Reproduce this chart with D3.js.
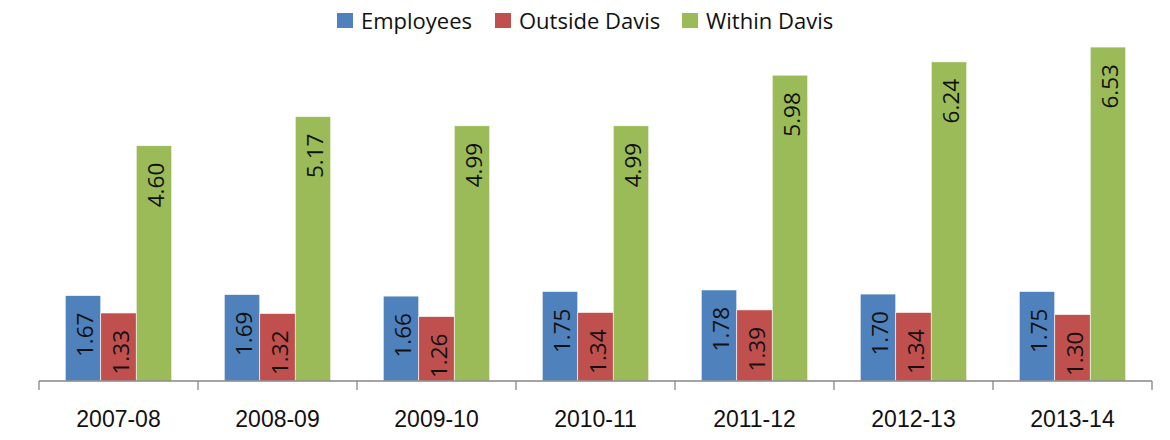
<!DOCTYPE html>
<html>
<head>
<meta charset="utf-8">
<script src="https://cdn.jsdelivr.net/npm/d3@7"></script>
<style>
  body { margin: 0; background: #fff; }
  svg { font-family: "Open Sans", sans-serif; }
</style>
</head>
<body>
<svg width="1170" height="440"></svg>
<script>
const width = 1170, height = 440;
const svg = d3.select("svg");

const years = ["2007-08", "2008-09", "2009-10", "2010-11", "2011-12", "2012-13", "2013-14"];
const seriesNames = ["Employees", "Outside Davis", "Within Davis"];
const employees = [1.67, 1.69, 1.66, 1.75, 1.78, 1.70, 1.75];
const outsideDavis = [1.33, 1.32, 1.26, 1.34, 1.39, 1.34, 1.30];
const withinDavis = [4.60, 5.17, 4.99, 4.99, 5.98, 6.24, 6.53];
const colors = ["#4F81BD", "#C0504D", "#9BBB59"];

const values = [employees, outsideDavis, withinDavis];
const rows = [];
years.forEach((yr, i) => {
  seriesNames.forEach((s, j) => rows.push({ year: yr, series: s, value: values[j][i], idx: j }));
});

const x = d3.scaleBand().domain(years).range([39, 1152]).paddingInner(0).paddingOuter(0);
const xs = d3.scaleBand().domain(seriesNames).range([0, x.bandwidth()]).paddingInner(0).paddingOuter(0.74);
const y = d3.scaleLinear().domain([0, 7]).range([381, 23]);

// bars
const bars = svg.append("g").selectAll("g")
  .data(rows)
  .join("g")
  .attr("transform", d => `translate(${x(d.year) + xs(d.series)},0)`);

bars.append("rect")
  .attr("y", d => y(d.value))
  .attr("width", xs.bandwidth())
  .attr("height", d => y(0) - y(d.value))
  .attr("fill", d => colors[d.idx])
  .attr("stroke", "#fff")
  .attr("stroke-width", 0.6);

bars.append("text")
  .attr("transform", d => `translate(${xs.bandwidth() / 2 + 10},${y(d.value) + 17}) rotate(-90)`)
  .attr("text-anchor", "end")
  .style("font-size", "22.5px")
  .style("fill", "#111")
  .text(d => d.value.toFixed(2));

// x axis
const axis = svg.append("g")
  .attr("transform", `translate(0,${y(0)})`)
  .call(d3.axisBottom(x).tickSize(0).tickPadding(0));
axis.select(".domain").attr("stroke", "#868686").attr("stroke-width", 1.3);
axis.selectAll("text")
  .attr("dy", null).attr("y", 46)
  .style("font-size", "23px").style("fill", "#111").attr("font-family", null);

const tickPos = years.map(d => x(d)).concat([x.range()[1]]);
axis.selectAll(".sep").data(tickPos).join("line")
  .attr("class", "sep")
  .attr("x1", d => d).attr("x2", d => d)
  .attr("y1", 0).attr("y2", 9)
  .attr("stroke", "#868686").attr("stroke-width", 1.3);
axis.select(".domain").attr("d", `M${x.range()[0]},0H${x.range()[1]}`);

// legend
const legendX = [337, 495, 682];
const legend = svg.append("g").selectAll("g")
  .data(seriesNames)
  .join("g")
  .attr("transform", (d, i) => `translate(${legendX[i]},13)`);
legend.append("rect").attr("width", 16).attr("height", 15).attr("fill", (d, i) => colors[i]);
legend.append("text")
  .attr("x", 24).attr("y", 16)
  .style("font-size", "22px")
  .style("fill", "#111")
  .text(d => d);
</script>
</body>
</html>
